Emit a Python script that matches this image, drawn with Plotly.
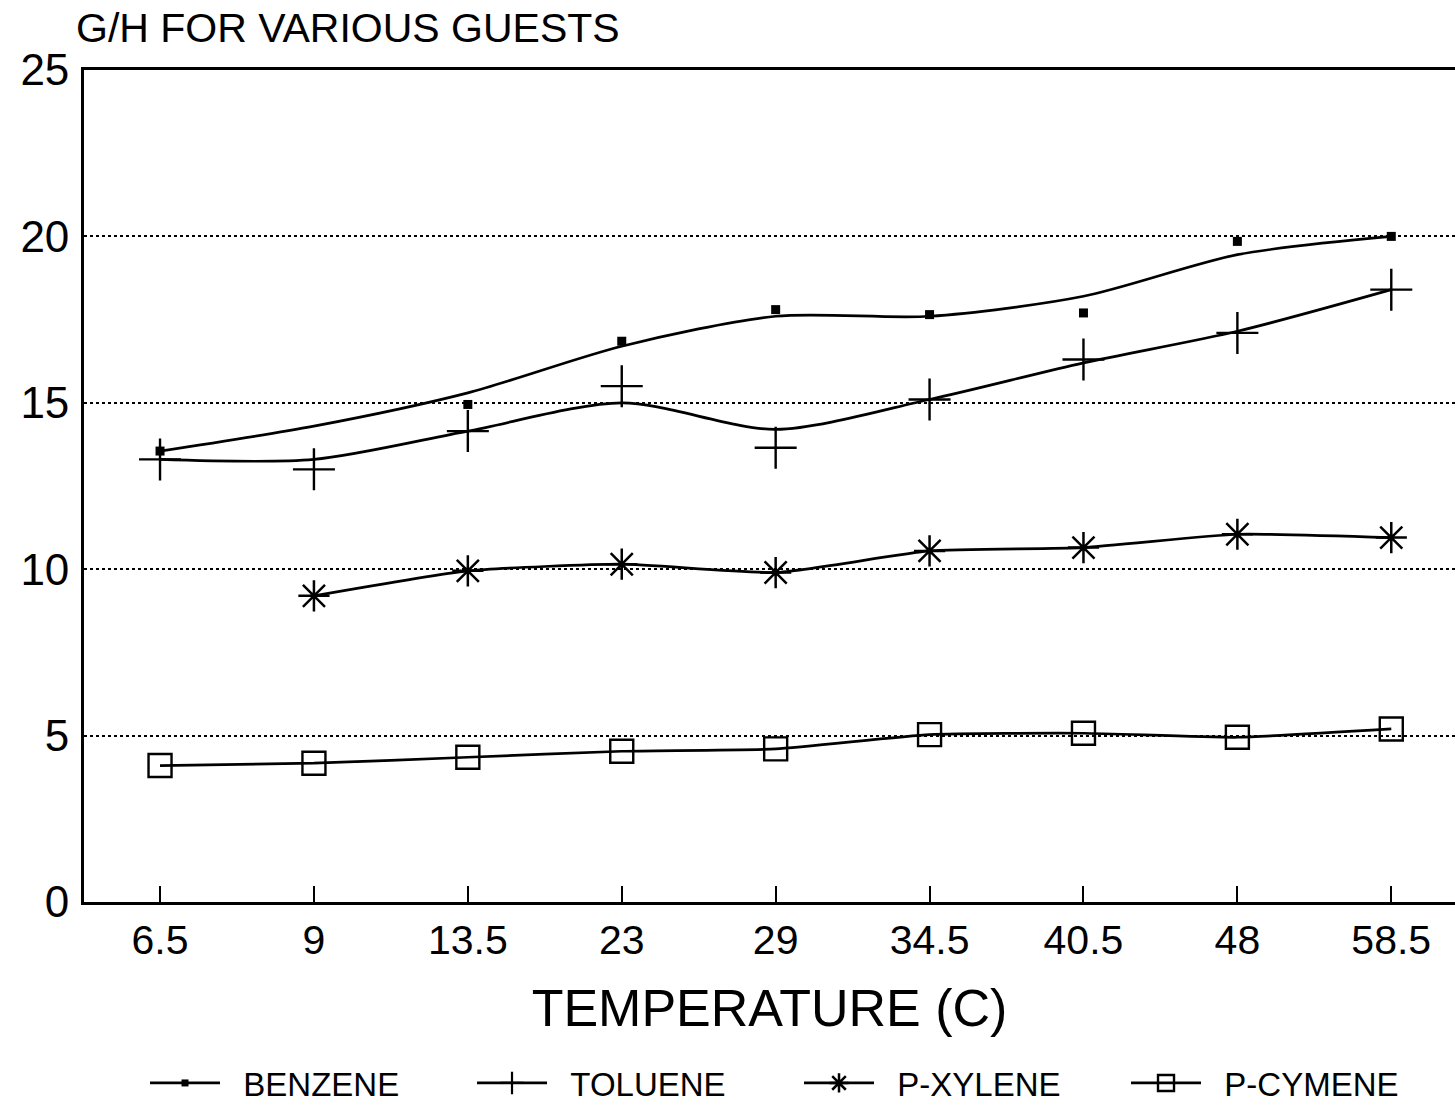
import plotly.graph_objects as go

# Temperatures (deg C), shown as evenly spaced categories
temps = ["6.5", "9", "13.5", "23", "29", "34.5", "40.5", "48", "58.5"]

# Measured G/H ratios per guest (None = not measured)
benzene = [13.55, None, 14.95, 16.85, 17.8, 17.65, 17.7, 19.85, 20.0]
toluene = [13.3, 13.0, 14.15, 15.5, 13.65, 15.1, 16.3, 17.1, 18.4]
p_xylene = [None, 9.2, 9.95, 10.15, 9.9, 10.55, 10.65, 11.05, 10.95]
p_cymene = [4.1, 4.17, 4.35, 4.53, 4.6, 5.03, 5.07, 4.95, 5.2]

# Smoothed trend curves drawn through the benzene and toluene data
benzene_fit = [13.55, 14.3, 15.3, 16.7, 17.6, 17.6, 18.2, 19.45, 20.0]
toluene_fit = [13.3, 13.3, 14.15, 15.0, 14.2, 15.1, 16.2, 17.15, 18.4]

y_ticks = [0, 5, 10, 15, 20, 25]

FONT = "Liberation Sans"
INK = "black"
LW = 2.7
PAD = "\u00a0" * 2

fig = go.Figure()

line_style = dict(color=INK, width=LW, shape="spline", smoothing=0.8)

# Benzene: fitted curve + square markers
fig.add_trace(go.Scatter(x=temps, y=benzene_fit, mode="lines", line=line_style,
                         showlegend=False, hoverinfo="skip"))
fig.add_trace(go.Scatter(x=temps, y=benzene, mode="markers", name="BENZENE",
                         marker=dict(symbol="square", size=9, color=INK),
                         showlegend=False))
fig.add_trace(go.Scatter(x=[None], y=[None], mode="lines+markers", name=PAD + "BENZENE",
                         line=dict(color=INK, width=LW),
                         marker=dict(symbol="square", size=7, color=INK)))

# Toluene: fitted curve + plus markers
fig.add_trace(go.Scatter(x=temps, y=toluene_fit, mode="lines", line=line_style,
                         showlegend=False, hoverinfo="skip"))
fig.add_trace(go.Scatter(x=temps, y=toluene, mode="markers", name="TOLUENE",
                         marker=dict(symbol="cross-thin-open", size=30, color=INK,
                                     line=dict(color=INK, width=2.4)),
                         showlegend=False))
fig.add_trace(go.Scatter(x=[None], y=[None], mode="lines+markers", name=PAD + "TOLUENE",
                         line=dict(color=INK, width=LW),
                         marker=dict(symbol="cross-thin-open", size=26, color=INK,
                                     line=dict(color=INK, width=2.2))))

# p-Xylene
fig.add_trace(go.Scatter(x=temps, y=p_xylene, mode="lines+markers", name=PAD + "P-XYLENE",
                         line=dict(color=INK, width=LW, shape="spline", smoothing=0.5),
                         marker=dict(symbol="asterisk-open", size=26, color=INK,
                                     line=dict(color=INK, width=2.5))))

# p-Cymene
fig.add_trace(go.Scatter(x=temps, y=p_cymene, mode="lines+markers", name=PAD + "P-CYMENE",
                         line=dict(color=INK, width=LW, shape="spline", smoothing=0.5),
                         marker=dict(symbol="square-open", size=23, color=INK,
                                     line=dict(color=INK, width=2.4))))

fig.update_layout(
    width=1455, height=1111,
    margin=dict(l=84, r=0, t=70, b=208),
    paper_bgcolor="white", plot_bgcolor="white",
    font=dict(family=FONT, color=INK),
    showlegend=True,
    legend=dict(orientation="h", x=0.0445, y=-0.217, xanchor="left", yanchor="middle",
                font=dict(size=33, family=FONT, color=INK),
                entrywidth=242, entrywidthmode="pixels", itemwidth=70,
                bgcolor="rgba(0,0,0,0)", itemsizing="trace"),
    annotations=[dict(text="G/H FOR VARIOUS GUESTS", xref="paper", yref="paper",
                      x=-0.007, y=1.05, xanchor="left", yanchor="middle",
                      showarrow=False, font=dict(size=41, family=FONT, color=INK))],
)

fig.update_xaxes(
    type="category", categoryorder="array", categoryarray=temps,
    range=[-0.494, 8.414],
    showline=True, linecolor=INK, linewidth=2.7, mirror=True,
    showgrid=False, zeroline=False,
    ticks="inside", ticklen=16, tickwidth=2.2, tickcolor=INK,
    tickfont=dict(size=41, family=FONT, color=INK),
    ticklabelstandoff=0,
    title=dict(text="TEMPERATURE (C)", font=dict(size=52, family=FONT, color=INK),
               standoff=28),
)

fig.update_yaxes(
    range=[0, 25], tickvals=y_ticks, ticktext=[str(v) for v in y_ticks],
    showline=True, linecolor=INK, linewidth=2.7,
    showgrid=True, gridcolor=INK, gridwidth=1.6, griddash="dot",
    zeroline=False, ticks="",
    tickfont=dict(size=44, family=FONT, color=INK),
    ticklabelstandoff=3,
)

fig.write_html("out.html")
